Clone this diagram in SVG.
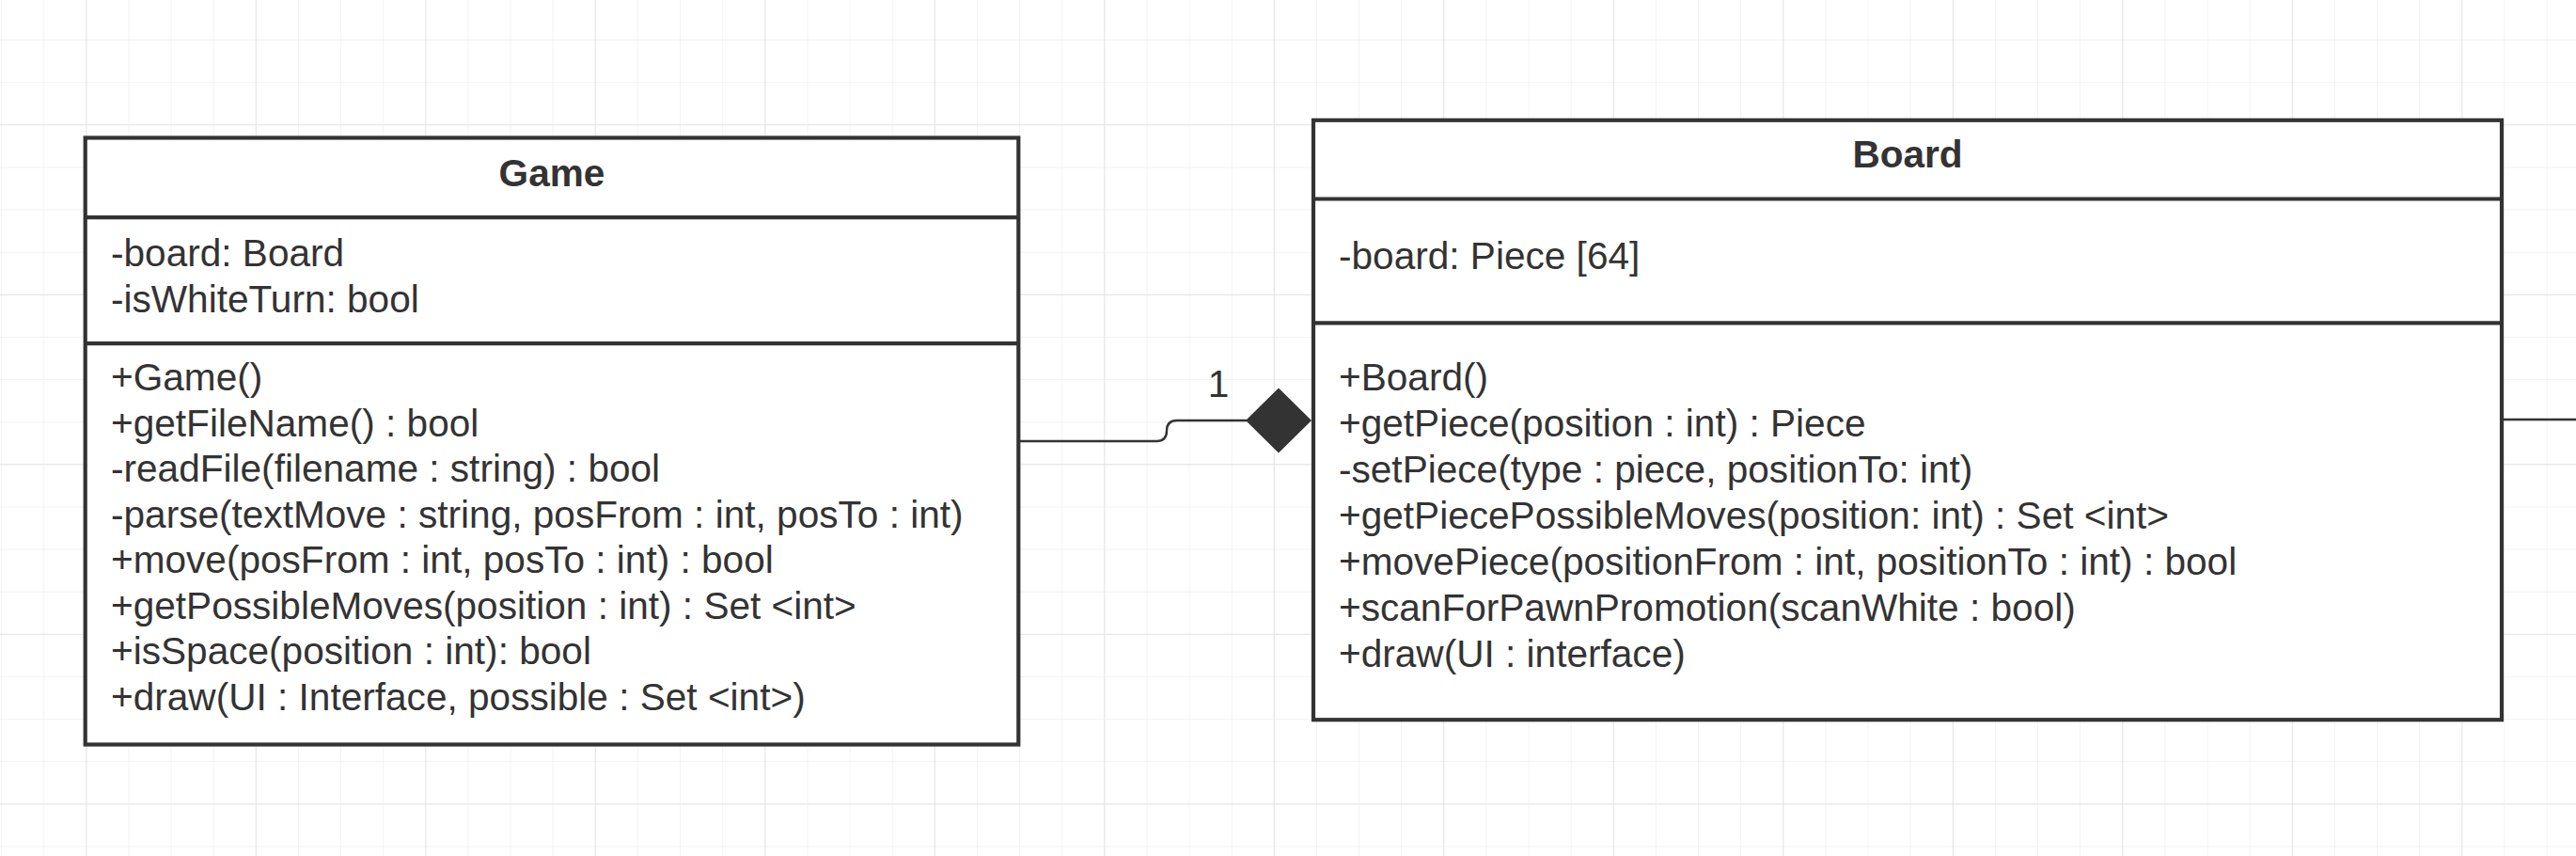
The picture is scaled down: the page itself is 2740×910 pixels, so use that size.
<svg xmlns="http://www.w3.org/2000/svg" width="2740" height="910" viewBox="0 0 2740 910">
  <style>
    .box { fill: #ffffff; stroke: #333333; stroke-width: 4.2; }
    .div { stroke: #333333; stroke-width: 4.2; }
    .t { font-family: "Liberation Sans", Arial, sans-serif; font-size: 40.6px; fill: #333333; }
    .title { font-weight: bold; text-anchor: middle; }
    .conn { fill: none; stroke: #333333; stroke-width: 2.4; }
  </style>
  <defs>
    <pattern id="minor" patternUnits="userSpaceOnUse" x="1.05" y="-3.05" width="45.125" height="45.125">
      <path d="M0 0 V45.125 M0 0 H45.125" fill="none" stroke="#eeeeee" stroke-width="1.4"/>
    </pattern>
    <pattern id="major" patternUnits="userSpaceOnUse" x="91.3" y="132.3" width="180.5" height="180.5">
      <path d="M0 0 V180.5 M0 0 H180.5" fill="none" stroke="#e0e0e0" stroke-width="1.6"/>
    </pattern>
  </defs>

  <rect x="0" y="0" width="2740" height="910" fill="#ffffff"/>
  <rect x="0" y="0" width="2740" height="910" fill="url(#minor)"/>
  <rect x="0" y="0" width="2740" height="910" fill="url(#major)"/>

  <g id="connectors">
    <path class="conn" d="M1085 469 H1230 Q1241 469 1241 458 Q1241 447 1252 447 H1326"/>
    <polygon points="1325,447 1360,412.5 1395,447 1360,481.5" fill="#333333"/>
    <text class="t" x="1296" y="421.5" text-anchor="middle">1</text>
    <path class="conn" d="M2663 446 H2740"/>
  </g>

  <g id="game">
    <rect class="box" x="90.7" y="146.5" width="992.6" height="645"/>
    <line class="div" x1="90.7" y1="231.2" x2="1083.3" y2="231.2"/>
    <line class="div" x1="90.7" y1="365.2" x2="1083.3" y2="365.2"/>
    <text class="t title" x="587" y="197.7">Game</text>
    <text class="t" x="118" y="282.7">-board: Board</text>
    <text class="t" x="118" y="331.7">-isWhiteTurn: bool</text>
    <text class="t" x="118" y="415">+Game()</text>
    <text class="t" x="118" y="463.6">+getFileName() : bool</text>
    <text class="t" x="118" y="512.1">-readFile(filename : string) : bool</text>
    <text class="t" x="118" y="560.7">-parse(textMove : string, posFrom : int, posTo : int)</text>
    <text class="t" x="118" y="609.3">+move(posFrom : int, posTo : int) : bool</text>
    <text class="t" x="118" y="657.9">+getPossibleMoves(position : int) : Set &lt;int&gt;</text>
    <text class="t" x="118" y="706.4">+isSpace(position : int): bool</text>
    <text class="t" x="118" y="755">+draw(UI : Interface, possible : Set &lt;int&gt;)</text>
  </g>

  <g id="board">
    <rect class="box" x="1397" y="127.8" width="1264" height="637.4"/>
    <line class="div" x1="1397" y1="211.5" x2="2661" y2="211.5"/>
    <line class="div" x1="1397" y1="343.3" x2="2661" y2="343.3"/>
    <text class="t title" x="2029" y="177.5">Board</text>
    <text class="t" x="1424" y="286">-board: Piece [64]</text>
    <text class="t" x="1424" y="415">+Board()</text>
    <text class="t" x="1424" y="464">+getPiece(position : int) : Piece</text>
    <text class="t" x="1424" y="513.1">-setPiece(type : piece, positionTo: int)</text>
    <text class="t" x="1424" y="562.2">+getPiecePossibleMoves(position: int) : Set &lt;int&gt;</text>
    <text class="t" x="1424" y="611.2">+movePiece(positionFrom : int, positionTo : int) : bool</text>
    <text class="t" x="1424" y="660.3">+scanForPawnPromotion(scanWhite : bool)</text>
    <text class="t" x="1424" y="709.3">+draw(UI : interface)</text>
  </g>
</svg>
